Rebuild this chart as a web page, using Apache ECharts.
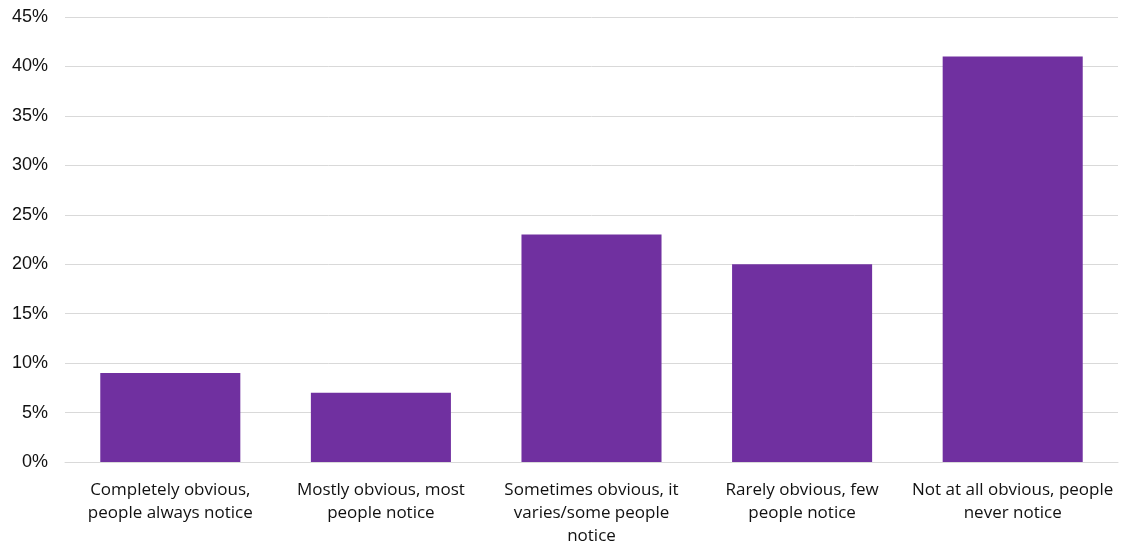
<!DOCTYPE html>
<html>
<head>
<meta charset="utf-8">
<script src="https://cdn.jsdelivr.net/npm/echarts@6/dist/echarts.min.js"></script>
<style>
  html, body { margin: 0; padding: 0; background: #fff; }
  #chart { width: 1122px; height: 548px; }
</style>
</head>
<body>
<div id="chart"></div>
<script>
// categorías y valores (porcentaje)
const categories = [
  'Completely obvious,\npeople always notice',
  'Mostly obvious, most\npeople notice',
  'Sometimes obvious, it\nvaries/some people\nnotice',
  'Rarely obvious, few\npeople notice',
  'Not at all obvious, people\nnever notice'
];
const values = [9, 7, 23, 20, 41];

const chart = echarts.init(document.getElementById('chart'));
chart.setOption({
  animation: false,
  grid: { left: 65, right: 4, top: 17, bottom: 85 },
  xAxis: {
    type: 'category',
    data: categories,
    axisLine: { lineStyle: { color: '#d9d9d9' } },
    axisTick: { show: false },
    axisLabel: {
      interval: 0, margin: 17, color: '#111',
      fontFamily: '"Open Sans", sans-serif', fontSize: 17, lineHeight: 23
    }
  },
  yAxis: {
    type: 'value', min: 0, max: 45, interval: 5,
    axisLine: { show: false }, axisTick: { show: false },
    axisLabel: {
      formatter: '{value}%', color: '#111', margin: 17,
      fontFamily: '"Liberation Sans", Arial, sans-serif', fontSize: 18
    },
    splitLine: { lineStyle: { color: '#d9d9d9' } }
  },
  series: [{
    type: 'bar',
    data: values,
    barCategoryGap: '33.5%',
    itemStyle: { color: '#7030a0' }
  }]
});
</script>
</body>
</html>
